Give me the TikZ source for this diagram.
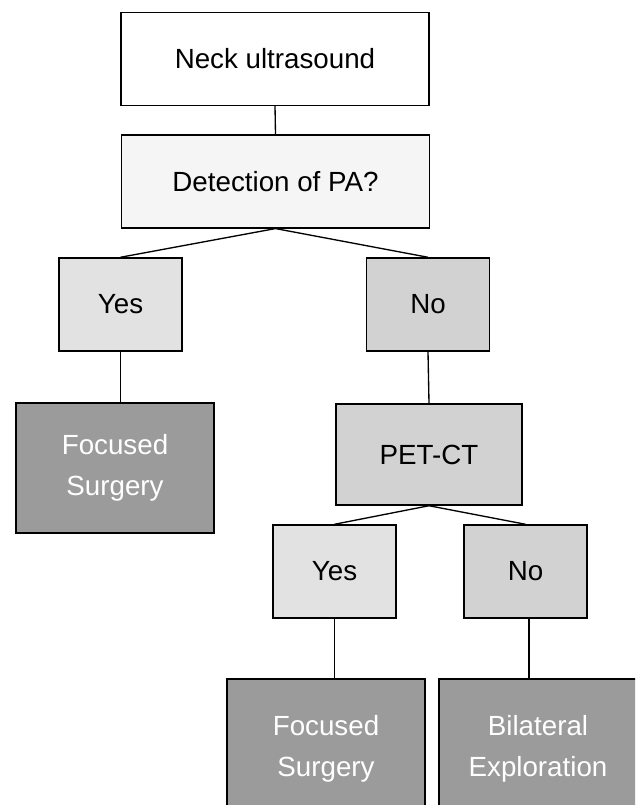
\documentclass[tikz,border=0pt]{standalone}
\usepackage{fontspec}
\setmainfont{Liberation Sans}
\definecolor{boxpale}{HTML}{F4F5F4}
\definecolor{boxlight}{HTML}{E2E2E2}
\definecolor{boxmid}{HTML}{D1D2D1}
\definecolor{boxdark}{HTML}{9B9B9B}
\tikzset{
  box/.style={draw=black, line width=1.1pt, inner sep=0pt, align=center,
    font=\fontsize{20.8}{31}\selectfont},
  wide/.style={box, minimum width=231pt, minimum height=69.5pt},
  answer/.style={box, minimum width=92.25pt, minimum height=69.75pt},
  outcome/.style={box, fill=boxdark, text=white, minimum width=148.5pt, minimum height=97.5pt},
  link/.style={draw=black, line width=1pt},
}

\begin{document}
\begin{tikzpicture}[x=0.75pt, y=-0.75pt]
    \useasboundingbox (0,0) rectangle (635,805);
    \clip (0,0) rectangle (635,805);

    \coordinate (N) at (275,59);
    \coordinate (D) at (275.5,181.5);
    \coordinate (Y1) at (120.5,304.5);
    \coordinate (N1) at (428,304.5);
    \coordinate (F1) at (115,468);
    \coordinate (P) at (429,454.5);
    \coordinate (Y2) at (334.5,571.5);
    \coordinate (N2) at (525.5,571.5);
    \coordinate (F2) at (326,749);
    \coordinate (B) at (538,749);

    \node [wide, fill=white] (neck) at (N) {Neck ultrasound};
    \node [wide, fill=boxpale] (detect) at (D) {Detection of PA?};
    \node [answer, fill=boxlight] (yes1) at (Y1) {Yes};
    \node [answer, fill=boxmid] (no1) at (N1) {No};
    \node [outcome] (focus1) at (F1) {Focused\\Surgery};
    \node [box, fill=boxmid, minimum width=139.5pt, minimum height=75.75pt] (pet) at (P) {PET-CT};
    \node [answer, fill=boxlight] (yes2) at (Y2) {Yes};
    \node [answer, fill=boxmid] (no2) at (N2) {No};
    \node [outcome, minimum height=105pt] (focus2) at (F2) {Focused\\Surgery};
    \node [outcome, minimum width=148.5pt, minimum height=105pt] (bilat) at (B) {Bilateral\\Exploration};

    % tree links
    \draw [link] (neck.south) -- (detect.north);
    \draw [link] (yes1.north) -- (detect.south) -- (no1.north);
    \draw [link] (yes1.south) -- (yes1.south |- focus1.north);
    \draw [link] (no1.south) -- (pet.north);
    \draw [link] (yes2.north) -- (pet.south) -- (no2.north);
    \draw [link] (yes2.south) -- (yes2.south |- focus2.north);
    \draw [link] ([xshift=2.5pt]no2.south) -- ([xshift=2.5pt]no2.south |- bilat.north);

\end{tikzpicture}
\end{document}
